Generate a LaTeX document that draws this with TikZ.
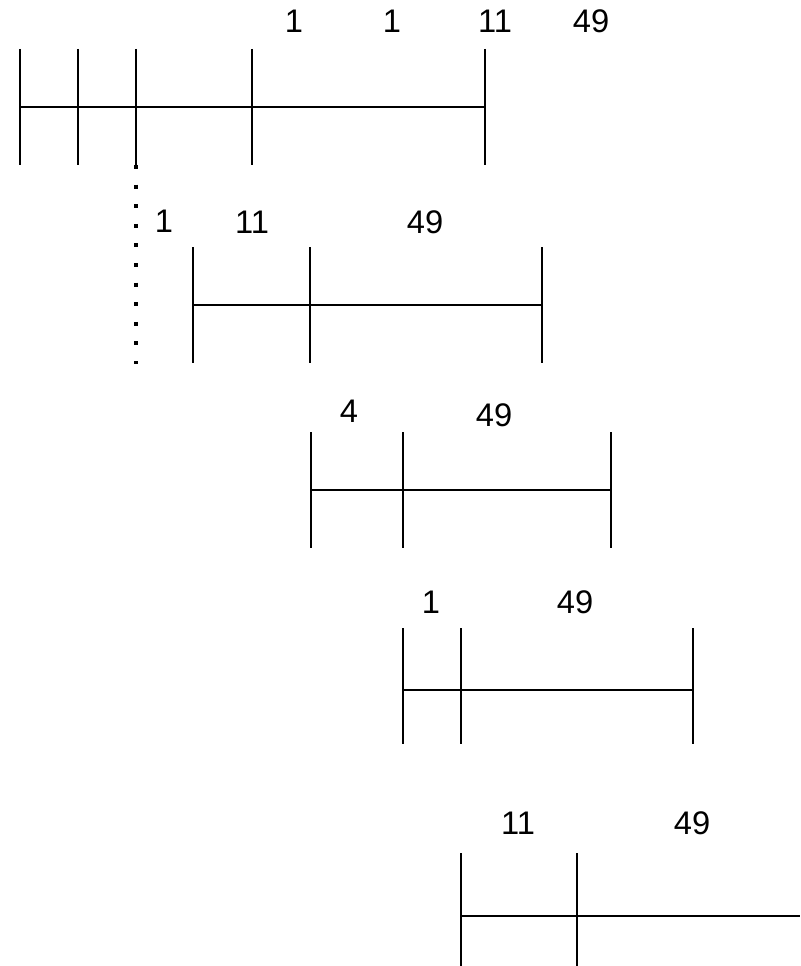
\documentclass[tikz,border=0pt]{standalone}
\usepackage{fontspec}
\setmainfont{Liberation Sans}
\usetikzlibrary{positioning}

\begin{document}
\begin{tikzpicture}[
    x=0.75pt, y=-0.75pt,
    font=\fontsize{24.5}{29}\selectfont,
    tick/.style={line width=1.5pt, line cap=butt},
    bar/.style={line width=1.3pt},
    num/.style={inner sep=0pt, anchor=center},
    dotline/.style={line width=3pt, dash pattern=on 3pt off 11.7pt},
]
\useasboundingbox (0,0) rectangle (800,966);

% Row 1
\foreach \x in {20,78,136,252,485}
    \draw[tick] (\x,49) -- (\x,165);
\coordinate (a1) at (20,107);
\coordinate (a2) at (485,107);
\draw[bar] (a1) -- (a2);
\node[num] (la1) at (294,21) {1};
\node[num] (la2) at (392,21) {1};
\node[num] (la3) at (495,21) {11};
\node[num] (la4) at (591,21) {49};

% dotted link down from row 1
\coordinate (d1) at (136,165);
\coordinate (d2) at (136,364);
\draw[dotline] (d1) -- (d2);

% Row 2
\foreach \x in {193,310,542}
    \draw[tick] (\x,247) -- (\x,363);
\coordinate (b1) at (193,305);
\coordinate (b2) at (542,305);
\draw[bar] (b1) -- (b2);
\node[num] (lb1) at (164,221) {1};
\node[num] (lb2) at (252,222) {11};
\node[num] (lb3) at (425,222) {49};

% Row 3
\foreach \x in {311,403,611}
    \draw[tick] (\x,432) -- (\x,548);
\coordinate (c1) at (311,490);
\coordinate (c2) at (611,490);
\draw[bar] (c1) -- (c2);
\node[num] (lc1) at (349,411) {4};
\node[num] (lc2) at (494,415) {49};

% Row 4
\foreach \x in {403,461,693}
    \draw[tick] (\x,628) -- (\x,744);
\coordinate (e1) at (403,690);
\coordinate (e2) at (693,690);
\draw[bar] (e1) -- (e2);
\node[num] (le1) at (431,602) {1};
\node[num] (le2) at (575,602) {49};

% Row 5
\foreach \x in {461,577}
    \draw[tick] (\x,853) -- (\x,970);
\coordinate (f1) at (461,916);
\coordinate (f2) at (800,916);
\draw[bar] (f1) -- (f2);
\node[num] (lf1) at (518,823) {11};
\node[num] (lf2) at (692,823) {49};
\end{tikzpicture}
\end{document}
